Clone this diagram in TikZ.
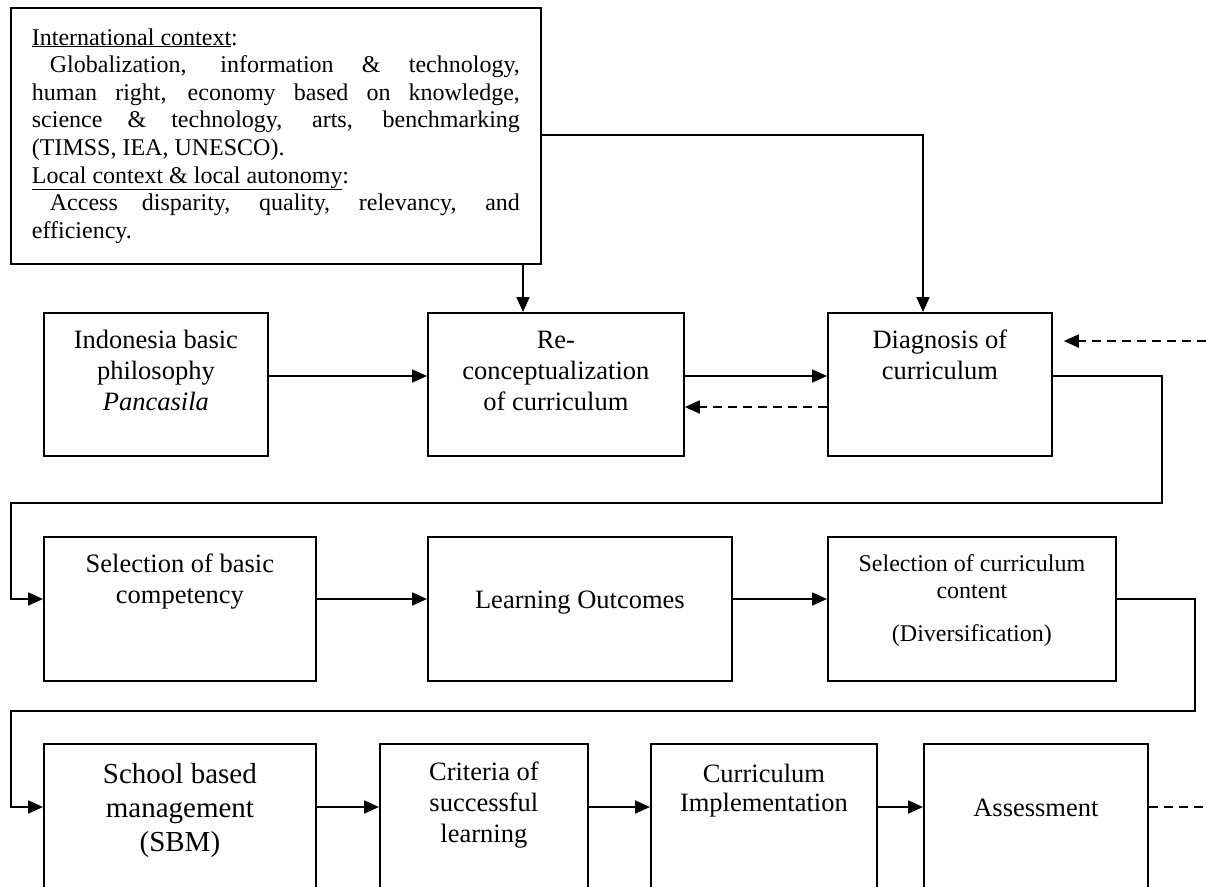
\documentclass[tikz,border=0pt]{standalone}
\usepackage{fontspec}
\setmainfont{Liberation Serif}
\usetikzlibrary{arrows.meta,positioning}
\newcommand{\fsz}[2]{\fontsize{#1}{#2}\selectfont}
\begin{document}
\begin{tikzpicture}[x=1pt,y=-1pt,line width=1.8pt,
 >={Triangle[length=15pt,width=13pt]},
 box/.style={draw,anchor=north west,inner sep=0pt},
 txt/.style={inner sep=0pt,align=center,font=\fsz{26.5}{31}},
 dashline/.style={dash pattern=on 9pt off 6pt}]
 \useasboundingbox (0,0) rectangle (1206,886);
 \clip (0,0) rectangle (1206,886);
 % context box
 \node[box,text width=488pt,inner xsep=21pt,minimum height=256pt,align=justify,font=\fsz{24}{27.6}] (ctx) at (10,7) {\underline{International context}:\\
 \hspace*{18pt}Globalization, information \& technology,\linebreak
 human right, economy based on knowledge,\linebreak
 science \& technology, arts, benchmarking\linebreak
 (TIMSS, IEA, UNESCO).\\
 \underline{Local context \& local autonomy}:\\
 \hspace*{18pt}Access disparity, quality, relevancy, and\linebreak
 efficiency.};
 % row 1
 \node[box,minimum width=224pt,minimum height=143pt] (indo) at (43,312) {};
 \node[txt,below=17pt of indo.north] (indo-t) {Indonesia basic\\philosophy\\\textit{Pancasila}};
 \node[box,minimum width=256pt,minimum height=143pt] (recon) at (427,312) {};
 \node[txt,below=18pt of recon.north] (recon-t) {Re-\\conceptualization\\of curriculum};
 \node[box,minimum width=224pt,minimum height=143pt] (diag) at (827,312) {};
 \node[txt,below=17pt of diag.north] (diag-t) {Diagnosis of\\curriculum};
 % row 2
 \node[box,minimum width=272pt,minimum height=144pt] (selbc) at (43,536) {};
 \node[txt,below=17pt of selbc.north] (selbc-t) {Selection of basic\\competency};
 \node[box,minimum width=304pt,minimum height=144pt] (lo) at (427,536) {};
 \node[txt,below=54pt of lo.north] (lo-t) {Learning Outcomes};
 \node[box,minimum width=288pt,minimum height=144pt] (selcc) at (827,536) {};
 \node[txt,font=\fsz{24}{27},below=18pt of selcc.north] (selcc-t) {Selection of curriculum\\content\\[16pt](Diversification)};
 % row 3
 \node[box,minimum width=272pt,minimum height=160pt] (sbm) at (43,743) {};
 \node[txt,font=\fsz{29}{34},below=19pt of sbm.north] (sbm-t) {School based\\management\\(SBM)};
 \node[box,minimum width=208pt,minimum height=160pt] (crit) at (379,743) {};
 \node[txt,below=18pt of crit.north] (crit-t) {Criteria of\\successful\\learning};
 \node[box,minimum width=226pt,minimum height=160pt] (impl) at (650,743) {};
 \node[txt,font=\fsz{26.5}{29},below=20pt of impl.north] (impl-t) {Curriculum\\Implementation};
 \node[box,minimum width=224pt,minimum height=160pt] (asm) at (923,743) {};
 \node[txt,below=55pt of asm.north] (asm-t) {Assessment};
 % connectors
 \coordinate (r1) at (0,376);
 \coordinate (r1b) at (0,407);
 \coordinate (r2) at (0,599);
 \coordinate (r3) at (0,807);
 \coordinate (a1) at (523,0);
 \coordinate (a2) at (923,135);
 \coordinate (k1) at (1162,503);
 \coordinate (k2) at (11,599);
 \coordinate (k3) at (1195,711);
 \coordinate (k4) at (11,807);
 \coordinate (fb) at (1206,341);
 \coordinate (fb2) at (1206,807);
 \draw[->] (ctx.south -| a1) -- (recon.north -| a1);
 \draw[->] (ctx.east |- a2) -| (diag.north -| a2);
 \draw[->] (indo.east |- r1) -- (recon.west |- r1);
 \draw[->] (recon.east |- r1) -- (diag.west |- r1);
 \draw[->,dashline] (diag.west |- r1b) -- (recon.east |- r1b);
 \draw[->,dashline,shorten >=11pt] (fb) -- (diag.east |- fb);
 \draw[->] (diag.east |- r1) -| (k1) -| (k2) -- (selbc.west |- r2);
 \draw[->] (selbc.east |- r2) -- (lo.west |- r2);
 \draw[->] (lo.east |- r2) -- (selcc.west |- r2);
 \draw[->] (selcc.east |- r2) -| (k3) -| (k4) -- (sbm.west |- r3);
 \draw[->] (sbm.east |- r3) -- (crit.west |- r3);
 \draw[->] (crit.east |- r3) -- (impl.west |- r3);
 \draw[->] (impl.east |- r3) -- (asm.west |- r3);
 \draw[dashline] (asm.east |- r3) -- (fb2);
\end{tikzpicture}
\end{document}
